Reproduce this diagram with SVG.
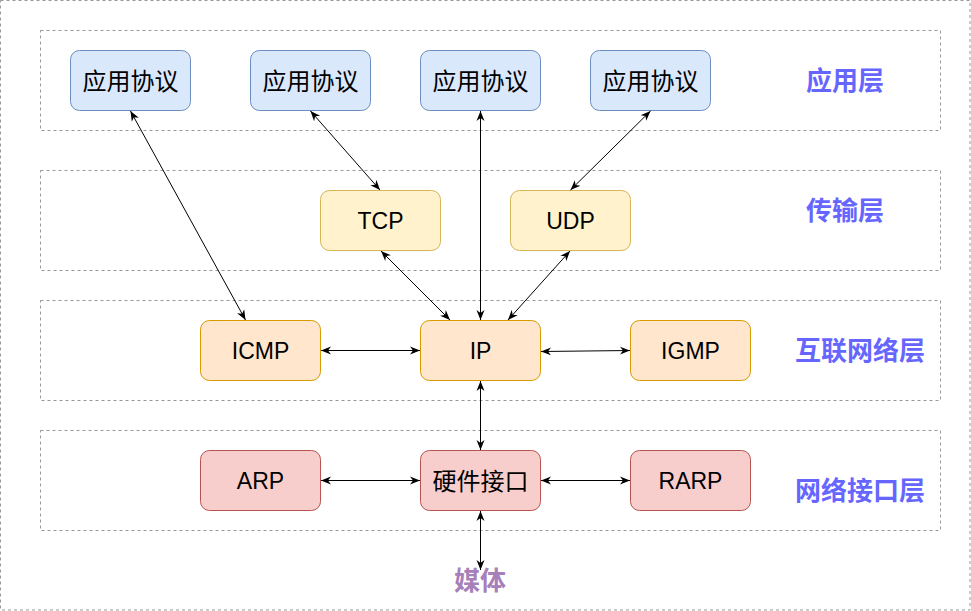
<svg xmlns="http://www.w3.org/2000/svg" width="971" height="611" viewBox="0 0 971 611">
<style>
.frame{fill:none;stroke:#999999;stroke-width:1;stroke-dasharray:3 3}
.node rect{stroke-width:1}
.blue rect{fill:#dae8fc;stroke:#6c8ebf}
.yellow rect{fill:#fff2cc;stroke:#d6b656}
.orange rect{fill:#ffe6cc;stroke:#d79b00}
.red rect{fill:#f8cecc;stroke:#b85450}
.t{font-family:"Liberation Sans","Noto Sans CJK SC",sans-serif;font-size:23px;fill:#000;text-anchor:middle;dominant-baseline:central}
.tc{font-family:"Noto Sans CJK SC",sans-serif;font-size:24px;fill:#000;text-anchor:middle;dominant-baseline:central}
.layer{font-family:"Noto Sans CJK SC",sans-serif;font-size:26px;font-weight:bold;fill:#6666ff;text-anchor:middle;dominant-baseline:central}
.media{font-family:"Noto Sans CJK SC",sans-serif;font-size:26px;font-weight:bold;fill:#a680b8;text-anchor:middle;dominant-baseline:central}
.conn line{stroke:#000;stroke-width:1;fill:none;marker-start:url(#arr);marker-end:url(#arr)}
</style>
<defs>
<marker id="arr" viewBox="0 0 10 10" refX="10" refY="5" markerWidth="10" markerHeight="10" markerUnits="userSpaceOnUse" orient="auto-start-reverse">
<path d="M0,1 L10,5 L0,9 L3,5 z" fill="#000"/>
</marker>
</defs>
<rect width="971" height="611" fill="#ffffff"/>
<rect class="frame" x="0.5" y="0.5" width="969.5" height="609.5"/>
<g id="layers">
<rect class="frame" x="40.5" y="30.5" width="900" height="100"/>
<rect class="frame" x="40.5" y="170.5" width="900" height="100"/>
<rect class="frame" x="40.5" y="300.5" width="900" height="100"/>
<rect class="frame" x="40.5" y="430.5" width="900" height="100"/>
</g>
<g id="label-app"><text class="layer" x="845" y="78">应用层</text></g>
<g id="label-transport"><text class="layer" x="845" y="208">传输层</text></g>
<g id="label-internet"><text class="layer" x="860" y="348">互联网络层</text></g>
<g id="label-link"><text class="layer" x="860" y="488">网络接口层</text></g>
<g id="media"><text class="media" x="480" y="578">媒体</text></g>

<g id="app1" class="node blue"><rect x="70.5" y="50.5" width="120" height="60" rx="9"/><text class="tc" x="130.5" y="79">应用协议</text></g>
<g id="app2" class="node blue"><rect x="250.5" y="50.5" width="120" height="60" rx="9"/><text class="tc" x="310.5" y="79">应用协议</text></g>
<g id="app3" class="node blue"><rect x="420.5" y="50.5" width="120" height="60" rx="9"/><text class="tc" x="480.5" y="79">应用协议</text></g>
<g id="app4" class="node blue"><rect x="590.5" y="50.5" width="120" height="60" rx="9"/><text class="tc" x="650.5" y="79">应用协议</text></g>

<g id="tcp" class="node yellow"><rect x="320.5" y="190.5" width="120" height="60" rx="9"/><text class="t" x="380.5" y="220.5">TCP</text></g>
<g id="udp" class="node yellow"><rect x="510.5" y="190.5" width="120" height="60" rx="9"/><text class="t" x="570.5" y="220.5">UDP</text></g>

<g id="icmp" class="node orange"><rect x="200.5" y="320.5" width="120" height="60" rx="9"/><text class="t" x="260.5" y="350.5">ICMP</text></g>
<g id="ip" class="node orange"><rect x="420.5" y="320.5" width="120" height="60" rx="9"/><text class="t" x="480.5" y="350.5">IP</text></g>
<g id="igmp" class="node orange"><rect x="630.5" y="320.5" width="120" height="60" rx="9"/><text class="t" x="690.5" y="350.5">IGMP</text></g>

<g id="arp" class="node red"><rect x="200.5" y="450.5" width="120" height="60" rx="9"/><text class="t" x="260.5" y="480.5">ARP</text></g>
<g id="hw" class="node red"><rect x="420.5" y="450.5" width="120" height="60" rx="9"/><text class="tc" x="480.5" y="479">硬件接口</text></g>
<g id="rarp" class="node red"><rect x="630.5" y="450.5" width="120" height="60" rx="9"/><text class="t" x="690.5" y="480.5">RARP</text></g>

<g id="connectors" class="conn">
<line x1="130.5" y1="111" x2="245.5" y2="320"/>
<line x1="310.5" y1="111" x2="380" y2="190"/>
<line x1="480.5" y1="111" x2="480.5" y2="320"/>
<line x1="650.5" y1="111" x2="570.5" y2="190"/>
<line x1="381" y1="251" x2="450" y2="320"/>
<line x1="570" y1="251" x2="508" y2="320"/>
<line x1="321" y1="350.5" x2="420" y2="350.5"/>
<line x1="541" y1="351.5" x2="630" y2="350.5"/>
<line x1="480.5" y1="381" x2="480.5" y2="450"/>
<line x1="321" y1="480.5" x2="420" y2="480.5"/>
<line x1="541" y1="480.5" x2="630" y2="480.5"/>
<line x1="480.5" y1="511" x2="480.5" y2="570"/>
</g>
</svg>
